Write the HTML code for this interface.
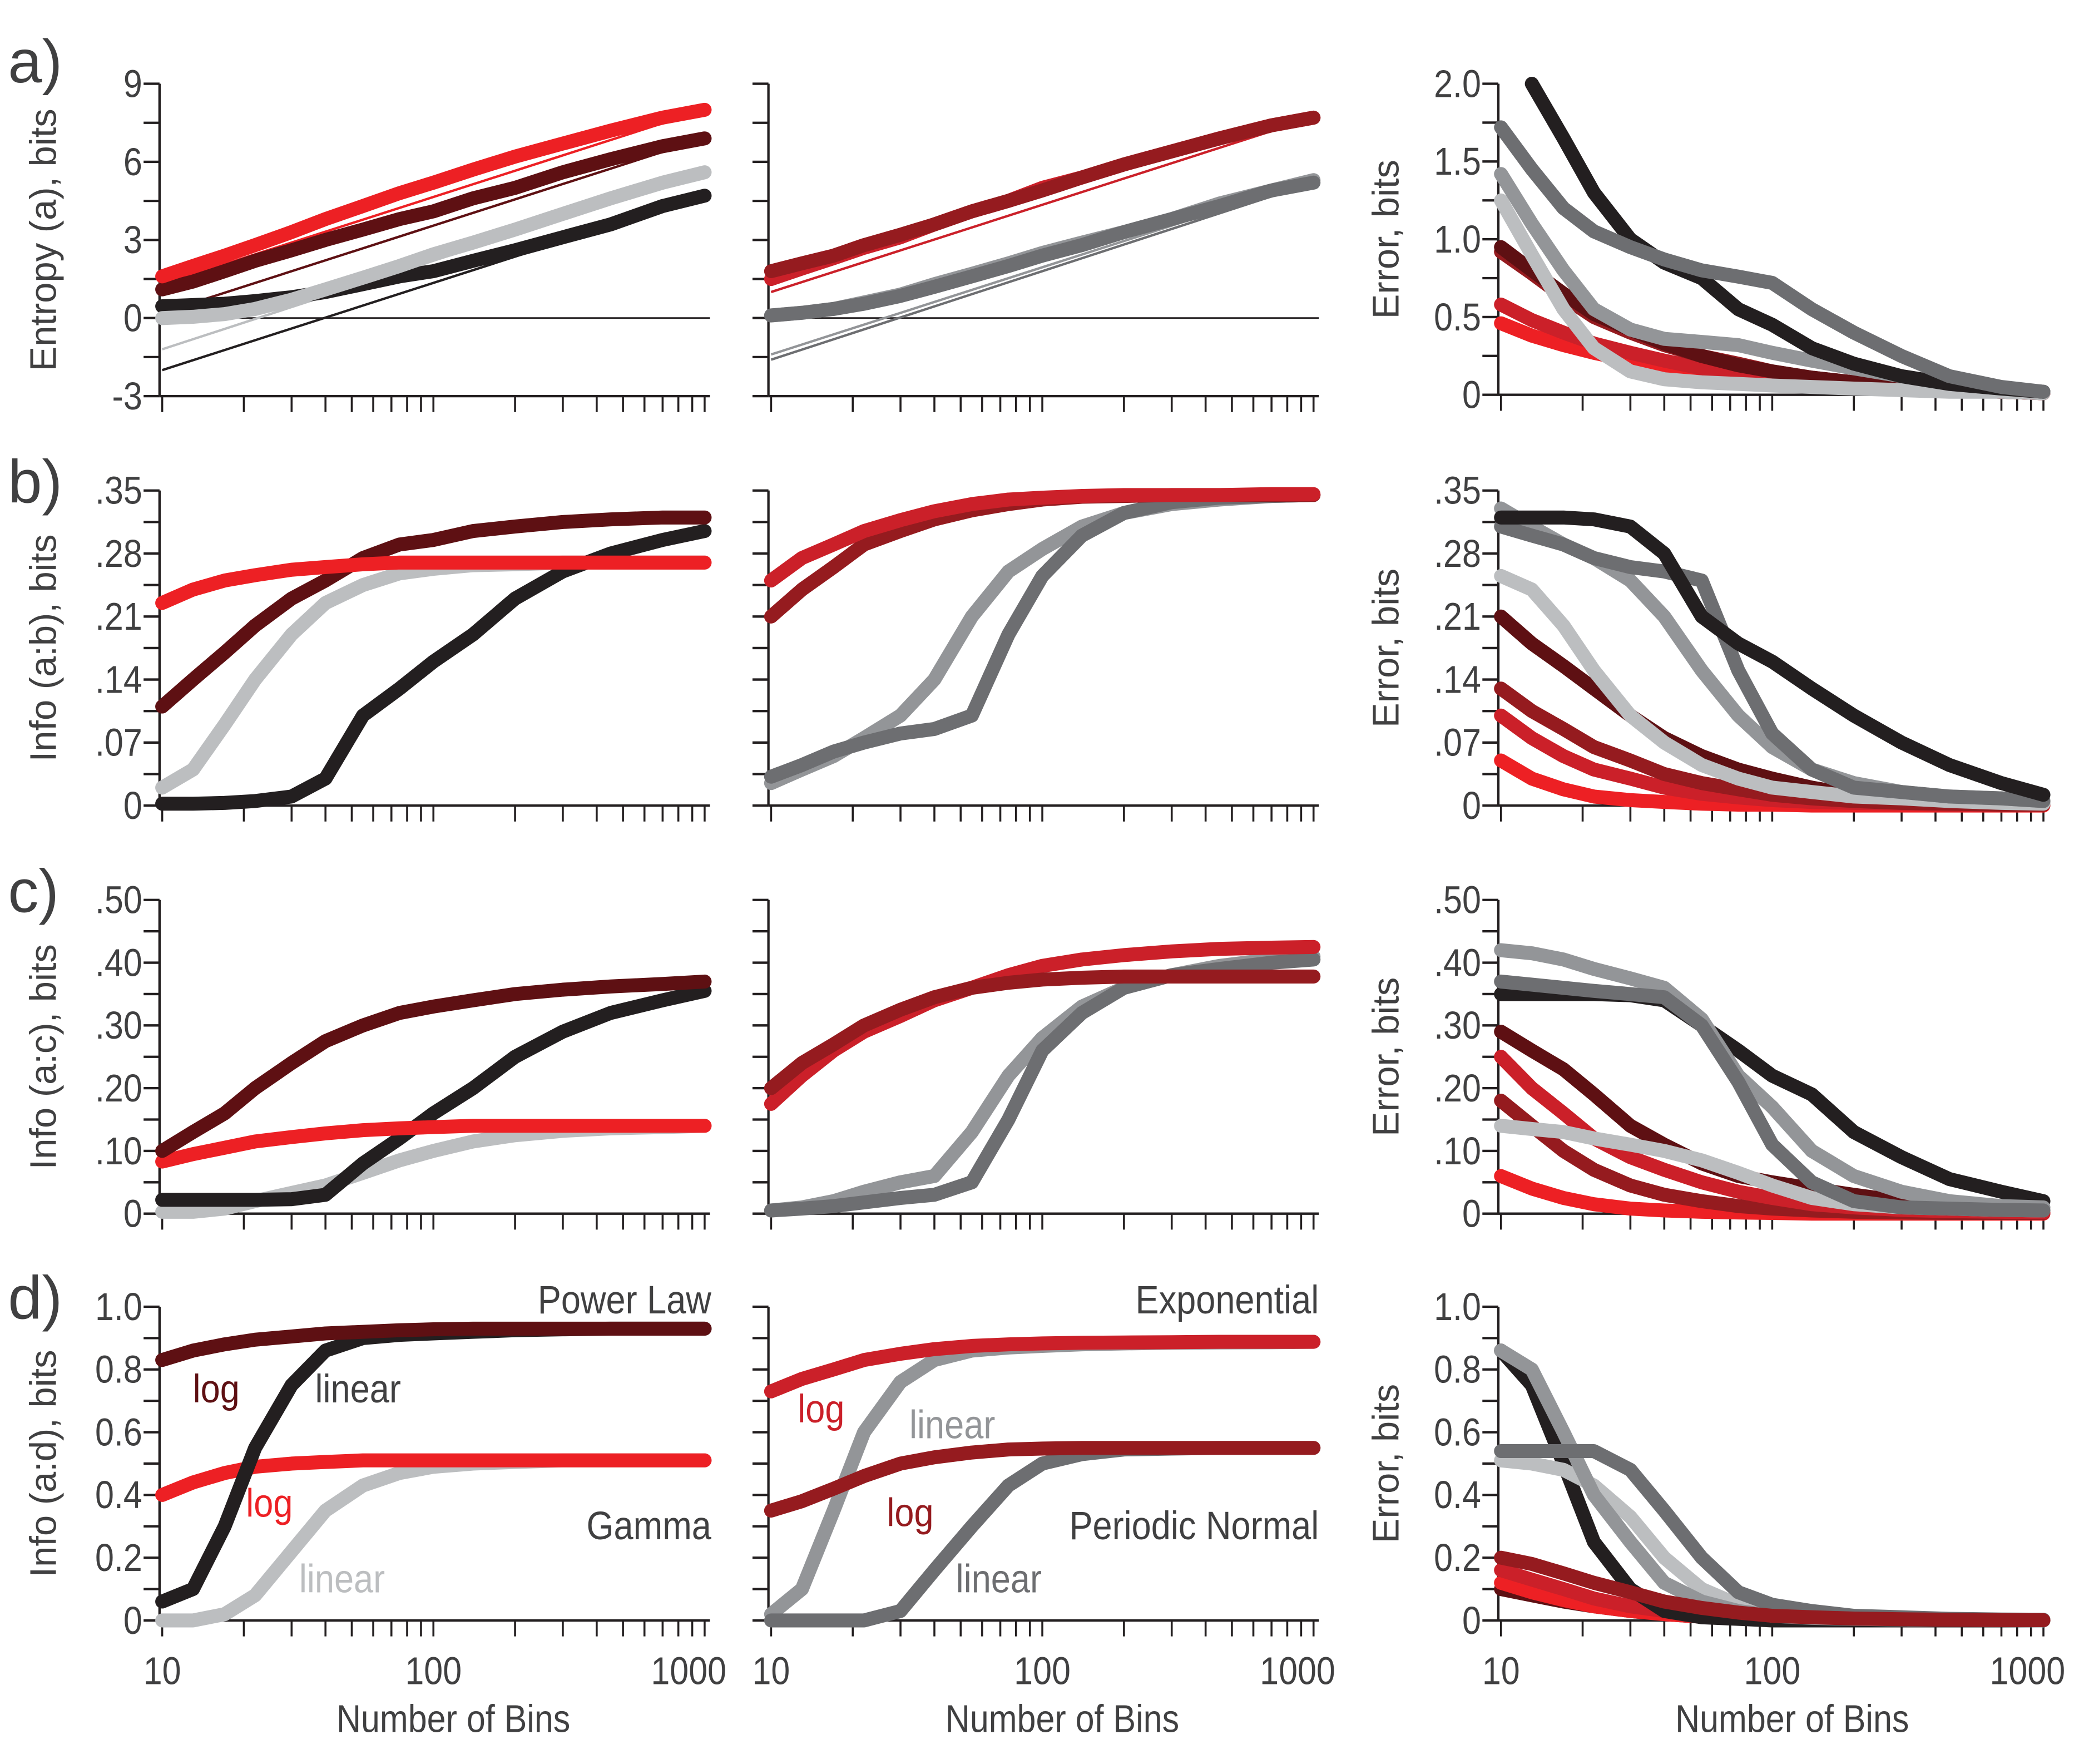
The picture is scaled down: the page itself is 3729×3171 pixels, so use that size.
<!DOCTYPE html>
<html><head><meta charset="utf-8"><style>
html,body{margin:0;padding:0;background:#fff;}
svg{display:block;font-family:"Liberation Sans",sans-serif;}
</style></head><body>
<svg id="fig" width="3729" height="3171" viewBox="0 0 1560 1327" preserveAspectRatio="none" xmlns="http://www.w3.org/2000/svg"></svg>
<script>
const bins = [10,13,17,22,30,40,55,75,100,140,200,300,450,700,1000];
// Row a
const aPowLog=[1.1,1.4,1.8,2.2,2.6,3.0,3.4,3.8,4.1,4.6,5.0,5.6,6.1,6.6,6.9];
const aPowLin=[0.45,0.5,0.55,0.65,0.8,1.0,1.3,1.6,1.8,2.2,2.6,3.1,3.6,4.3,4.7];
const aGamLog=[1.6,2.0,2.4,2.8,3.3,3.8,4.3,4.8,5.2,5.7,6.2,6.7,7.2,7.7,8.0];
const aGamLin=[0.0,0.05,0.15,0.35,0.7,1.1,1.55,2.0,2.45,2.9,3.4,4.0,4.6,5.2,5.6];
const aExpLog=[1.5,1.9,2.3,2.7,3.1,3.6,4.1,4.5,5.0,5.4,5.9,6.4,6.9,7.4,7.7];
const aExpLin=[0.1,0.2,0.35,0.6,0.9,1.3,1.7,2.1,2.5,2.9,3.3,3.8,4.4,4.9,5.3];
const aPnLog=[1.8,2.1,2.4,2.8,3.2,3.6,4.1,4.5,4.9,5.4,5.9,6.4,6.9,7.4,7.7];
const aPnLin=[0.1,0.2,0.35,0.55,0.85,1.2,1.6,2.0,2.4,2.8,3.3,3.8,4.3,4.9,5.2];
const aTheoryStart1=[0.2,-1.2,-2.0,1.3]; const aTheoryEnd1=[6.9,5.6,4.7,8.0];
const aTheoryStart2=[1.0,-1.4,-1.6]; const aTheoryEnd2=[7.7,5.3,5.2];
const aErrBlack=[null,2.0,1.65,1.3,1.0,0.85,0.75,0.55,0.45,0.3,0.2,0.12,0.07,0.04,0.02];
const aErrDark=[1.72,1.45,1.2,1.05,0.95,0.87,0.8,0.76,0.72,0.55,0.4,0.25,0.12,0.05,0.02];
const aErrMid=[1.42,1.1,0.8,0.55,0.42,0.36,0.34,0.32,0.27,0.22,0.17,0.12,0.07,0.04,0.02];
const aErrLight=[1.25,0.9,0.55,0.3,0.15,0.1,0.08,0.07,0.06,0.05,0.04,0.03,0.02,0.02,0.01];
const aErrMaroon=[0.95,0.8,0.65,0.52,0.42,0.33,0.25,0.19,0.15,0.11,0.08,0.05,0.03,0.02,0.01];
const aErrDCrim=[0.92,0.78,0.63,0.5,0.4,0.32,0.25,0.2,0.15,0.11,0.08,0.05,0.03,0.02,0.01];
const aErrCrim=[0.58,0.48,0.4,0.33,0.27,0.22,0.17,0.13,0.1,0.08,0.06,0.04,0.03,0.02,0.01];
const aErrRed=[0.46,0.38,0.32,0.27,0.22,0.18,0.14,0.11,0.09,0.07,0.05,0.04,0.03,0.02,0.01];
// Row b
const bPowLog=[.11,.14,.17,.20,.23,.25,.275,.29,.295,.305,.31,.315,.318,.32,.32];
const bPowLin=[.002,.002,.003,.005,.01,.03,.1,.13,.16,.19,.23,.26,.28,.295,.305];
const bGamLog=[.225,.24,.25,.256,.262,.265,.268,.27,.27,.27,.27,.27,.27,.27,.27];
const bGamLin=[.02,.04,.09,.14,.19,.225,.245,.258,.263,.267,.268,.27,.27,.27,.27];
const bExpLog=[.25,.275,.29,.305,.317,.327,.335,.34,.342,.344,.345,.345,.345,.346,.346];
const bExpLin=[.025,.04,.055,.075,.1,.14,.21,.26,.285,.31,.325,.335,.34,.344,.345];
const bPnLog=[.21,.24,.265,.29,.305,.318,.328,.335,.34,.343,.344,.345,.345,.345,.345];
const bPnLin=[.032,.045,.06,.07,.08,.085,.1,.19,.255,.3,.325,.337,.342,.344,.345];
const bErrBlack=[.32,.32,.32,.318,.31,.28,.21,.18,.16,.13,.1,.07,.045,.025,.012];
const bErrDark=[.31,.30,.29,.275,.265,.26,.25,.15,.08,.04,.02,.015,.01,.008,.005];
const bErrMid=[.33,.31,.29,.275,.25,.21,.15,.1,.065,.04,.025,.015,.01,.008,.005];
const bErrLight=[.255,.24,.2,.15,.1,.07,.045,.03,.02,.015,.01,.008,.005,.003,.002];
const bErrMaroon=[.21,.18,.155,.13,.1,.075,.055,.04,.03,.02,.012,.008,.005,.003,.002];
const bErrDCrim=[.13,.105,.085,.065,.05,.035,.025,.018,.012,.008,.005,.003,.002,.001,.001];
const bErrCrim=[.1,.075,.055,.04,.03,.02,.013,.009,.006,.004,.003,.002,.001,.001,.001];
const bErrRed=[.05,.03,.018,.01,.006,.004,.002,.001,.001,0,0,0,0,0,0];
// Row c
const cPowLog=[.10,.13,.16,.20,.24,.275,.30,.32,.33,.34,.35,.357,.362,.366,.37];
const cPowLin=[.022,.022,.022,.022,.023,.03,.08,.12,.16,.2,.25,.29,.32,.34,.355];
const cGamLog=[.083,.095,.105,.115,.122,.128,.133,.136,.138,.14,.14,.14,.14,.14,.14];
const cGamLin=[.003,.003,.008,.02,.033,.045,.065,.085,.1,.115,.125,.132,.136,.138,.14];
const cExpLog=[.175,.22,.26,.29,.315,.34,.36,.38,.395,.405,.412,.418,.422,.424,.425];
const cExpLin=[.005,.01,.02,.035,.05,.06,.13,.22,.28,.33,.36,.38,.395,.405,.41];
const cPnLog=[.2,.24,.27,.3,.325,.345,.36,.368,.373,.376,.378,.378,.378,.378,.378];
const cPnLin=[.005,.008,.012,.018,.025,.03,.05,.15,.26,.32,.36,.38,.39,.4,.405];
const cErrBlack=[.35,.35,.35,.35,.348,.34,.3,.26,.22,.19,.13,.09,.055,.035,.02];
const cErrDark=[.37,.365,.36,.355,.35,.345,.3,.21,.11,.05,.02,.01,.008,.006,.005];
const cErrMid=[.42,.415,.405,.39,.375,.36,.31,.22,.17,.1,.06,.035,.02,.012,.01];
const cErrLight=[.14,.135,.13,.12,.11,.1,.085,.065,.045,.025,.015,.01,.008,.006,.005];
const cErrMaroon=[.29,.26,.23,.19,.14,.11,.08,.06,.05,.04,.03,.02,.012,.008,.005];
const cErrDCrim=[.18,.14,.1,.07,.045,.03,.02,.012,.008,.005,.003,.002,.001,.001,.001];
const cErrCrim=[.25,.2,.16,.12,.09,.07,.05,.035,.025,.015,.01,.006,.004,.003,.002];
const cErrRed=[.06,.04,.025,.015,.008,.005,.003,.002,.001,0,0,0,0,0,0];
// Row d
const dPowLog=[.83,.86,.88,.895,.905,.915,.92,.925,.928,.93,.93,.93,.93,.93,.93];
const dPowLin=[.06,.1,.3,.55,.75,.86,.9,.91,.915,.92,.925,.928,.93,.93,.93];
const dGamLog=[.4,.44,.47,.49,.5,.505,.51,.51,.51,.51,.51,.51,.51,.51,.51];
const dGamLin=[0,0,.02,.08,.22,.35,.43,.47,.49,.5,.505,.51,.51,.51,.51];
const dExpLog=[.73,.77,.8,.83,.85,.865,.875,.88,.883,.885,.886,.887,.888,.888,.888];
const dExpLin=[.02,.1,.35,.6,.76,.83,.86,.87,.875,.88,.883,.885,.886,.887,.888];
const dPnLog=[.35,.38,.42,.46,.5,.52,.535,.545,.548,.55,.55,.55,.55,.55,.55];
const dPnLin=[0,0,0,0,.03,.16,.3,.43,.5,.53,.545,.548,.55,.55,.55];
const dErrBlack=[.86,.75,.5,.25,.1,.03,.01,.005,0,0,0,0,0,0,0];
const dErrDark=[.54,.54,.54,.54,.48,.35,.2,.09,.05,.03,.015,.01,.005,.003,.002];
const dErrMid=[.86,.8,.6,.4,.25,.12,.06,.03,.015,.008,.005,.003,.002,.001,0];
const dErrLight=[.51,.5,.48,.43,.33,.2,.1,.05,.025,.015,.008,.005,.003,.002,.001];
const dErrMaroon=[.1,.08,.06,.045,.03,.02,.012,.008,.005,.003,.002,.001,.001,0,0];
const dErrDCrim=[.2,.18,.15,.12,.09,.06,.04,.025,.015,.01,.006,.004,.002,.001,.001];
const dErrCrim=[.16,.13,.1,.07,.045,.03,.018,.01,.006,.003,.002,.001,0,0,0];
const dErrRed=[.12,.09,.065,.045,.03,.02,.012,.007,.004,.002,.001,0,0,0,0];

const C={black:'#231f20',light:'#bcbec0',mid:'#939598',dark:'#6d6e71',maroon:'#5e1013',red:'#ed2024',crim:'#cb2029',dcrim:'#951b1f'};
const NS='http://www.w3.org/2000/svg';
const svg=document.getElementById('fig');
function el(tag,attrs,parent){const e=document.createElementNS(NS,tag);for(const k in attrs)e.setAttribute(k,attrs[k]);(parent||svg).appendChild(e);return e;}
function txt(s,attrs,parent){const e=el('text',attrs,parent);e.textContent=s;return e;}
function ctxt(s,x,y,size,fill,anchor,parent,extra){ // condensed text
 const g=el('g',{transform:`translate(${x} ${y}) scale(0.88 1)`},parent);
 const t=txt(s,Object.assign({x:0,y:0,'font-size':size,fill:fill,'text-anchor':anchor},extra||{}),g);
 return t;
}

const colX0=[122,580,1129], decade=204;
const rows=[
 {top:63,bot:298,min:-3,max:9,step:1.5,lab:[9,6,3,0,-3],fmt:v=>String(v),title:'Entropy (a), bits',letter:'a)'},
 {top:369,bot:606,min:0,max:.35,step:.035,lab:[.35,.28,.21,.14,.07,0],fmt:v=>v===0?'0':('.'+Math.round(v*100).toString().padStart(2,'0')),title:'Info (a:b), bits',letter:'b)'},
 {top:677,bot:913,min:0,max:.5,step:.05,lab:[.5,.4,.3,.2,.1,0],fmt:v=>v===0?'0':('.'+Math.round(v*100).toString().padStart(2,'0')),title:'Info (a:c), bits',letter:'c)'},
 {top:983,bot:1219,min:0,max:1,step:.1,lab:[1,.8,.6,.4,.2,0],fmt:v=>v===0?'0':v.toFixed(1),title:'Info (a:d), bits',letter:'d)'}
];
const errRowA={top:63,bot:297,min:0,max:2,step:.25,lab:[2,1.5,1,.5,0],fmt:v=>v===0?'0':v.toFixed(1)};
const rowData=[
 [[['maroon',aPowLog],['black',aPowLin],['light',aGamLin],['red',aGamLog]],
  [['mid',aExpLin],['dark',aPnLin],['crim',aExpLog],['dcrim',aPnLog]],
  [['red',aErrRed],['crim',aErrCrim],['dcrim',aErrDCrim],['maroon',aErrMaroon],['light',aErrLight],['mid',aErrMid],['black',aErrBlack],['dark',aErrDark]]],
 [[['light',bGamLin],['black',bPowLin],['maroon',bPowLog],['red',bGamLog]],
  [['mid',bExpLin],['dark',bPnLin],['dcrim',bPnLog],['crim',bExpLog]],
  [['red',bErrRed],['crim',bErrCrim],['dcrim',bErrDCrim],['maroon',bErrMaroon],['light',bErrLight],['mid',bErrMid],['dark',bErrDark],['black',bErrBlack]]],
 [[['light',cGamLin],['black',cPowLin],['red',cGamLog],['maroon',cPowLog]],
  [['mid',cExpLin],['dark',cPnLin],['crim',cExpLog],['dcrim',cPnLog]],
  [['red',cErrRed],['dcrim',cErrDCrim],['crim',cErrCrim],['maroon',cErrMaroon],['light',cErrLight],['black',cErrBlack],['mid',cErrMid],['dark',cErrDark]]],
 [[['light',dGamLin],['red',dGamLog],['black',dPowLin],['maroon',dPowLog]],
  [['mid',dExpLin],['crim',dExpLog],['dark',dPnLin],['dcrim',dPnLog]],
  [['maroon',dErrMaroon],['red',dErrRed],['crim',dErrCrim],['black',dErrBlack],['light',dErrLight],['mid',dErrMid],['dark',dErrDark],['dcrim',dErrDCrim]]]
];
const TC='#404041';

rows.forEach((r0,ri)=>{
 const L=txt(r0.letter,{x:6,y:r0.top+(ri===0?-1:9),'font-size':46,fill:TC});
 
 
 for(let ci=0;ci<3;ci++){
  const r=(ri===0&&ci===2)?errRowA:r0;
  const x0=colX0[ci], ax=x0-2, xEnd=x0+2*decade+4;
  const g=el('g',{});
  
  
  const X=n=>x0+(Math.log10(n)-1)*decade;
  const Y=v=>r.bot-(v-r.min)/(r.max-r.min)*(r.bot-r.top);
  el('line',{x1:ax,y1:r.top,x2:ax,y2:r.bot,stroke:'#231f20','stroke-width':1.8},g);
  el('line',{x1:ax,y1:r.bot,x2:xEnd,y2:r.bot,stroke:'#231f20','stroke-width':1.8},g);
  const nT=Math.round((r.max-r.min)/r.step);
  for(let i=0;i<=nT;i++){const v=r.min+i*r.step;el('line',{x1:ax-12,y1:Y(v),x2:ax,y2:Y(v),stroke:'#231f20','stroke-width':1.8},g);}
  for(let d=10;d<=100;d*=10)for(let k=1;k<=9;k++){const n=d*k;el('line',{x1:X(n),y1:r.bot,x2:X(n),y2:r.bot+12,stroke:'#231f20','stroke-width':1.5},g);}
  el('line',{x1:X(1000),y1:r.bot,x2:X(1000),y2:r.bot+12,stroke:'#231f20','stroke-width':1.5},g);
  if(ci!==1){
   r.lab.forEach(v=>{const t=ctxt(r.fmt(v),ci===0?107:1114,Y(v)+10,29,TC,'end',g);
    });
   const tx=ci===0?42:1052, cy=(r.top+r.bot)/2;
   const t=txt(ci===0?r0.title:'Error, bits',{x:tx,y:cy,'font-size':28,fill:TC,'text-anchor':'middle',transform:`rotate(-90 ${tx} ${cy})`},g);
   
  }
  if(ri===3){
   [[10,'10'],[100,'100'],[1000,'1000']].forEach(([n,s])=>{const t=ctxt(s,n===1000?X(n)-12:X(n),1267,29,TC,'middle',g);
    });
   const t=ctxt('Number of Bins',X(100)+15,1303,29,TC,'middle',g);
   
  }
  if(ri===0&&ci<2){
   el('line',{x1:ax,y1:Y(0),x2:xEnd,y2:Y(0),stroke:'#231f20','stroke-width':1.2},g);
   const st=ci===0?aTheoryStart1:aTheoryStart2, en=ci===0?aTheoryEnd1:aTheoryEnd2;
   const cols=ci===0?['maroon','light','black','red']:['crim','mid','dark'];
   st.forEach((s,i)=>{const l=el('line',{x1:X(10),y1:Y(s),x2:X(1000),y2:Y(en[i]),stroke:C[cols[i]],'stroke-width':1.8},g);
    });
  }
  rowData[ri][ci].forEach(([col,vals])=>{
   let d='';vals.forEach((v,i)=>{if(v===null)return;d+=(d?'L':'M')+X(bins[i]).toFixed(1)+','+Y(v).toFixed(1);});
   const p=el('path',{d:d,fill:'none',stroke:C[col],'stroke-width':10.5,'stroke-linecap':'round','stroke-linejoin':'round'},g);
   
   
  });
 }
});
const notes=[
 ['Power Law',535,988,TC,'end'],['log',145,1055,C.maroon,'start'],['linear',237,1055,TC,'start'],
 ['log',185,1141,C.red,'start'],['Gamma',535,1158,TC,'end'],['linear',225,1198,C.light,'start'],
 ['Exponential',992,988,TC,'end'],['log',600,1070,C.crim,'start'],['linear',684,1082,C.mid,'start'],
 ['log',667,1148,C.dcrim,'start'],['Periodic Normal',992,1158,TC,'end'],['linear',719,1198,C.dark,'start']
];
notes.forEach(([s,x,y,f,a])=>{const t=ctxt(s,x,y,30,f,a);
 });
</script>
</body></html>
